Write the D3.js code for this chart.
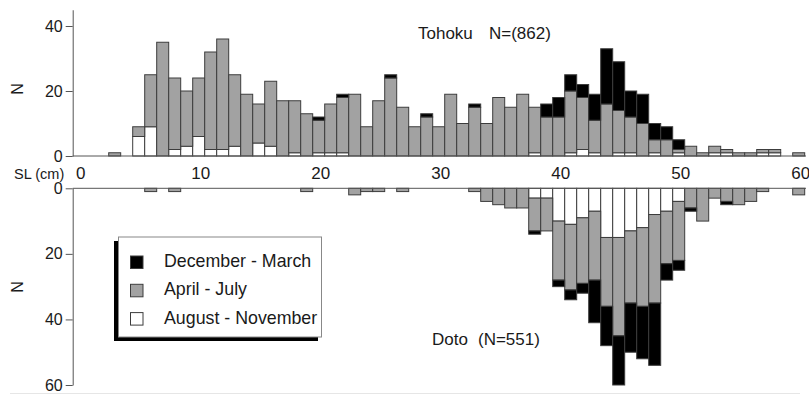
<!DOCTYPE html>
<html>
<head>
<meta charset="utf-8">
<title>SL histograms Tohoku / Doto</title>
<script src="https://cdn.jsdelivr.net/npm/d3@7"></script>
<style>
  body { margin: 0; background: #fff; }
  text { font-family: "Liberation Sans", Arial, Helvetica, sans-serif; fill: #1a1a1a; }
  .axis path, .axis line { stroke: #555; stroke-width: 1; }
  .axis text { font-size: 17px; }
  .yaxis text { font-size: 16px; }
</style>
</head>
<body>
<svg id="chart" width="809" height="394"></svg>
<script>

// SL (cm) bins, one value per 1 cm
var sl = [0,1,2,3,4,5,6,7,8,9,
          10,11,12,13,14,15,16,17,18,19,
          20,21,22,23,24,25,26,27,28,29,
          30,31,32,33,34,35,36,37,38,39,
          40,41,42,43,44,45,46,47,48,49,
          50,51,52,53,54,55,56,57,58,59,60];

// Tohoku, N=862
var tohokuDecMar = [0,0,0,0,0,0,0,0,0,0,
                    0,0,0,0,0,0,0,0,0,0,
                    1,0,1,0,0,0,1,0,0,1,
                    0,0,0,1,0,0,0,0,0,4,
                    6,5,4,8,17,15,8,9,5,4,
                    3,0,0,0,0,0,0,0,0,0,0];
var tohokuAprJul = [0,0,0,1,0,3,16,35,22,17,
                    18,30,34,22,19,12,20,17,16,13,
                    10,15,17,19,9,17,24,15,9,12,
                    9,19,10,15,10,18,15,19,14,12,
                    12,19,16,10,16,13,11,10,4,5,
                    1,3,1,2,1,1,1,1,1,0,1];
var tohokuAugNov = [0,0,0,0,0,6,9,0,2,3,
                    6,2,2,3,0,4,3,0,1,0,
                    1,1,1,0,0,0,0,0,0,0,
                    0,0,0,0,0,0,0,0,1,0,
                    0,1,2,1,0,1,1,0,1,0,
                    1,0,0,1,1,0,0,1,1,0,0];

// Doto, N=551
var dotoDecMar = [0,0,0,0,0,0,0,0,0,0,
                  0,0,0,0,0,0,0,0,0,0,
                  0,0,0,0,0,0,0,0,0,0,
                  0,0,0,0,0,0,0,0,1,0,
                  2,3,3,13,12,15,15,16,19,5,
                  3,1,0,0,1,0,0,0,0,0,0];
var dotoAprJul = [0,0,0,0,0,0,1,0,1,0,
                  0,0,0,0,0,0,0,0,0,1,
                  0,0,0,2,1,1,0,1,0,0,
                  0,0,0,1,4,5,6,6,10,10,
                  18,20,20,21,21,30,22,24,27,16,
                  18,6,10,3,4,5,4,1,0,0,2];
var dotoAugNov = [0,0,0,0,0,0,0,0,0,0,
                  0,0,0,0,0,0,0,0,0,0,
                  0,0,0,0,0,0,0,0,0,0,
                  0,0,0,0,0,0,0,0,3,3,
                  10,11,9,7,15,15,13,12,8,7,
                  4,0,0,0,0,0,0,0,0,0,0];

var xTicks = [0,10,20,30,40,50,60];
var seasons = ["August - November", "April - July", "December - March"];   // stack order, bottom first
var colors = {"December - March": "#000", "April - July": "#a2a2a2", "August - November": "#fff"};

var svg = d3.select("#chart");

var x = d3.scaleLinear().domain([-0.5, 60.5]).range([72.7, 804.7]);
var yTop = d3.scaleLinear().domain([0, 45]).range([156, 9.75]);
var yBot = d3.scaleLinear().domain([0, 60]).range([188.3, 385]);

function rows(augNov, aprJul, decMar) {
  return sl.map(function(d, i) {
    var r = {sl: d};
    r[seasons[0]] = augNov[i];
    r[seasons[1]] = aprJul[i];
    r[seasons[2]] = decMar[i];
    return r;
  });
}

var stack = d3.stack().keys(seasons);

function drawBars(data, y, cls) {
  var layers = stack(data);
  svg.append("g").attr("class", cls)
    .selectAll("g").data(layers).enter().append("g")
      .attr("fill", function(d) { return colors[d.key]; })
    .selectAll("rect").data(function(d) { return d.filter(function(s) { return s[1] > s[0]; }); })
    .enter().append("rect")
      .attr("x", function(d) { return x(d.data.sl - 0.5); })
      .attr("width", function(d) { return x(d.data.sl + 0.5) - x(d.data.sl - 0.5); })
      .attr("y", function(d) { return Math.min(y(d[0]), y(d[1])); })
      .attr("height", function(d) { return Math.abs(y(d[1]) - y(d[0])); })
      .attr("stroke", "#3c3c3c")
      .attr("stroke-width", 1);
}

drawBars(rows(tohokuAugNov, tohokuAprJul, tohokuDecMar), yTop, "tohoku");
drawBars(rows(dotoAugNov, dotoAprJul, dotoDecMar), yBot, "doto");

// baselines
svg.append("line").attr("x1", x(-0.5)).attr("x2", 806).attr("y1", yTop(0)).attr("y2", yTop(0))
  .attr("stroke", "#555");
svg.append("line").attr("x1", x(-0.5)).attr("x2", 806).attr("y1", yBot(0)).attr("y2", yBot(0))
  .attr("stroke", "#555");

// y axes
svg.append("g").attr("class", "axis yaxis")
  .attr("transform", "translate(" + x(-0.5) + ",0)")
  .call(d3.axisLeft(yTop).tickValues([0, 20, 40]).tickSize(7).tickSizeOuter(0).tickPadding(3));
svg.append("g").attr("class", "axis yaxis")
  .attr("transform", "translate(" + x(-0.5) + ",0)")
  .call(d3.axisLeft(yBot).tickValues([0, 20, 40, 60]).tickSize(7).tickSizeOuter(0).tickPadding(3));

// x labels between the panels
var xa = svg.append("g").attr("class", "axis")
  .attr("transform", "translate(1.5,179)")
  .call(d3.axisBottom(x).tickValues(xTicks).tickSize(0));
xa.select(".domain").remove();
xa.selectAll("text").attr("y", 0).attr("dy", 0);

svg.append("text").attr("x", 14).attr("y", 178.5).style("font-size", "14.5px").text("SL (cm)");

// N labels
svg.append("text").attr("transform", "translate(23,89) rotate(-90)")
  .attr("text-anchor", "middle").style("font-size", "16px").text("N");
svg.append("text").attr("transform", "translate(23,287) rotate(-90)")
  .attr("text-anchor", "middle").style("font-size", "16px").text("N");

// titles
svg.append("text").attr("x", 418).attr("y", 38.5).style("font-size", "17px").text("Tohoku");
svg.append("text").attr("x", 489).attr("y", 38.5).style("font-size", "17px").text("N=(862)");
svg.append("text").attr("x", 432).attr("y", 345).style("font-size", "17px").text("Doto");
svg.append("text").attr("x", 478).attr("y", 345).style("font-size", "17px").text("(N=551)");

// legend
var lg = svg.append("g").attr("class", "legend");
lg.append("rect").attr("x", 114).attr("y", 241).attr("width", 204).attr("height", 100).attr("fill", "#000");
lg.append("rect").attr("x", 118.5).attr("y", 237).attr("width", 203).attr("height", 100)
  .attr("fill", "#fff").attr("stroke", "#888");
var legendOrder = ["December - March", "April - July", "August - November"];
legendOrder.forEach(function(k, i) {
  var yy = 256 + i * 28.3;
  lg.append("rect").attr("x", 130.5).attr("y", yy).attr("width", 12.5).attr("height", 12.5)
    .attr("fill", colors[k]).attr("stroke", "#3c3c3c");
  lg.append("text").attr("x", 164).attr("y", yy + 11).style("font-size", "17.8px").text(k);
});

// faint scan edge at the bottom
svg.append("line").attr("x1", 10).attr("x2", 800).attr("y1", 393.5).attr("y2", 393.5)
  .attr("stroke", "#e6e6e6");

</script>
</body>
</html>
